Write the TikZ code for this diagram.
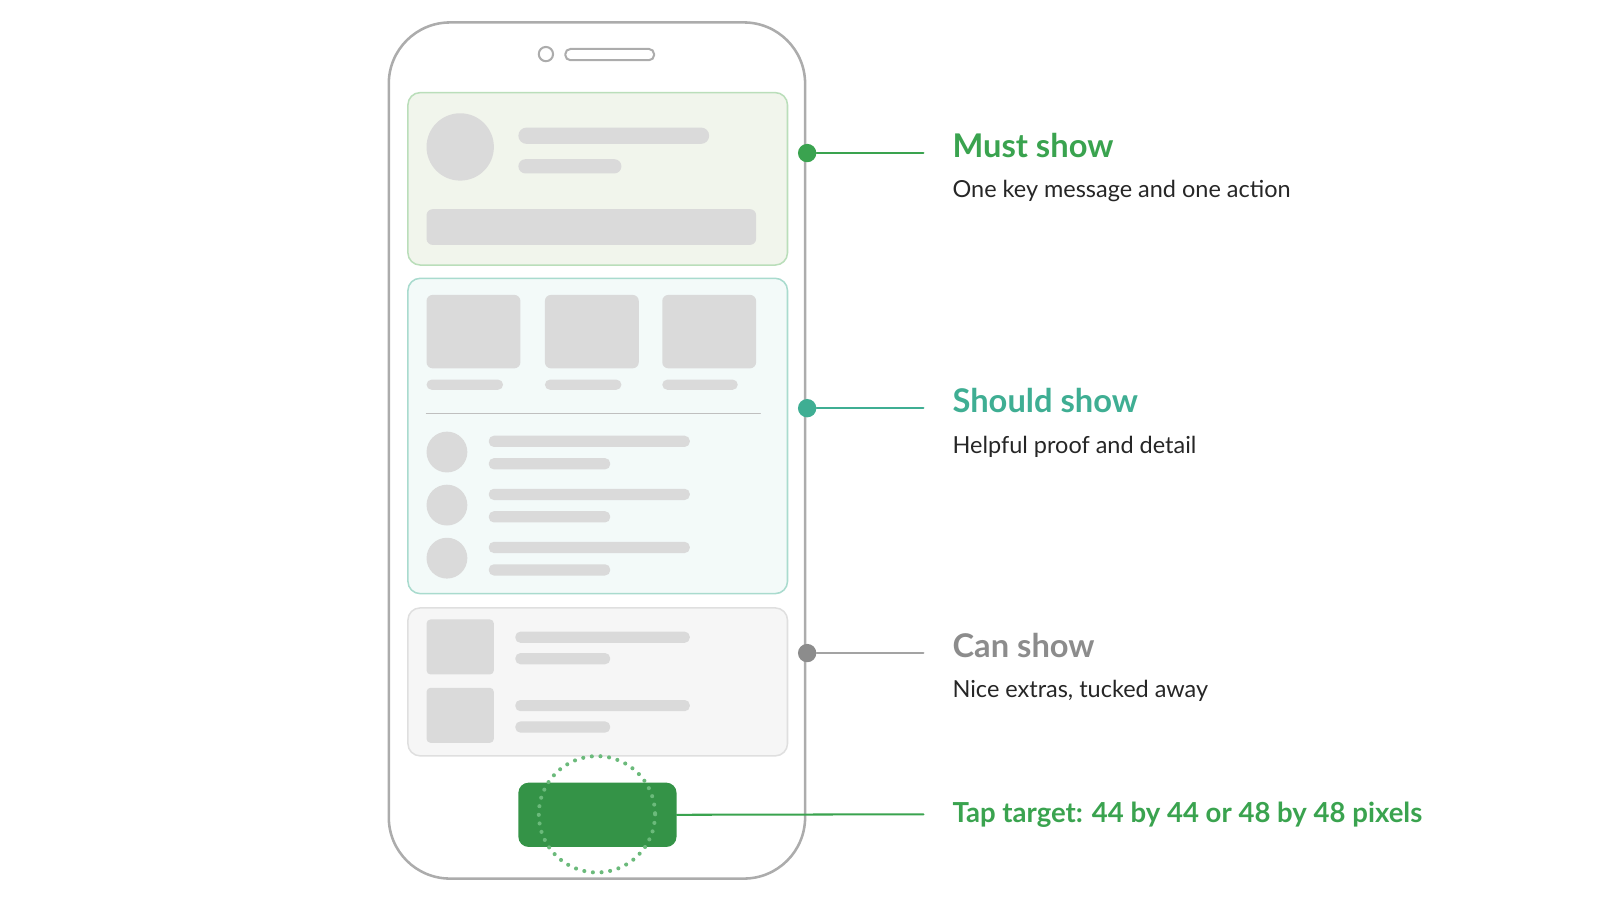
\documentclass[tikz,border=0pt]{standalone}
\usepackage{fontspec}
\setmainfont{Lato}
\usetikzlibrary{positioning}

\definecolor{mustgreen}{HTML}{3AA34F}
\definecolor{shouldteal}{HTML}{3FAE93}
\definecolor{cangray}{HTML}{8C8C8C}
\definecolor{skel}{HTML}{DADADA}
\definecolor{mustfill}{HTML}{F1F5EC}

\tikzset{
  card/.style={draw=#1, line width=1.5pt, rounded corners=12pt, anchor=north west,
    minimum width=372pt, inner sep=0pt},
  bar/.style={fill=skel, rounded corners=5pt},
  dot/.style={circle, fill=#1, inner sep=0pt, minimum size=18pt},
  head/.style={anchor=base west, font=\fontsize{32}{32}\selectfont\bfseries, text=#1},
  sub/.style={anchor=base west, font=\fontsize{23}{23}\selectfont, text=black!85},
}

\begin{document}
\begin{tikzpicture}[x=1pt,y=-1pt,line cap=round]
\useasboundingbox (0,0) rectangle (1568,882);

% phone body
\draw[gray!65, line width=2.5pt, rounded corners=60pt] (381,22) rectangle (789,861);
\draw[gray!65, line width=2pt] (535,53) circle (7);
\draw[gray!65, line width=2pt, rounded corners=5pt] (554,48) rectangle (641,59);

% cards
\node[card=green!35!gray!40, fill=mustfill, minimum height=169pt] (must) at (399,90) {};
\node[card=shouldteal!45, fill=shouldteal!6, minimum height=309pt] (should) at (399,272) {};
\node[card=gray!25, fill=gray!7, minimum height=145pt] (can) at (399,595) {};

% must show content
\fill[skel] (451,144) circle (33);
\fill[bar, rounded corners=8pt] (508,125) rectangle (695,141);
\fill[bar, rounded corners=7pt] (508,156) rectangle (609,170);
\fill[bar, rounded corners=6pt] (418,205) rectangle (741,240);

% should show content
\foreach \x/\w in {418/75, 534/75, 649/74} {
  \fill[bar, rounded corners=6pt] (\x,289) rectangle ++(92,72);
  \fill[bar] (\x,372) rectangle ++(\w,10);
}
\draw[gray!50, line width=1.5pt] (418,405) -- (745,405);
\foreach \y in {443,495,547} {
  \fill[skel] (438,\y) circle (20);
  \fill[bar] (479,\y-16) rectangle (676,\y-5);
  \fill[bar] (479,\y+6) rectangle (598,\y+17);
}

% can show content
\foreach \y in {607,674} {
  \fill[bar, rounded corners=4pt] (418,\y) rectangle ++(66,54);
  \fill[bar] (505,\y+12) rectangle (676,\y+23);
  \fill[bar] (505,\y+33) rectangle (598,\y+44);
}

% tap button
\node[fill=mustgreen!90!black, rounded corners=10pt, minimum width=155pt, minimum height=63pt,
  inner sep=0pt] (tap) at (585.5,798.5) {};
\draw[mustgreen!75, line width=4pt, dash pattern=on 0pt off 8.5pt] (585,798) circle (57);

% connectors
\node[dot=mustgreen] (dmust) at (791,150) {};
\node[dot=shouldteal] (dshould) at (791,400) {};
\node[dot=cangray] (dcan) at (791,640) {};
\coordinate (emust) at (905,150);
\coordinate (eshould) at (905,400);
\coordinate (ecan) at (905,640);
\coordinate (etap) at (905,798);
\draw[mustgreen, line width=2pt] (dmust) -- (emust);
\draw[shouldteal, line width=2pt] (dshould) -- (eshould);
\draw[cangray!80, line width=2pt] (dcan) -- (ecan);
\draw[mustgreen, line width=2pt] (tap.east) -- (etap);

% labels
\node[head=mustgreen] (lmust) at (930,154) {Must show};
\node[sub] (smust) at (930,194) {One key message and one action};
\node[head=shouldteal] (lshould) at (930,404) {Should show};
\node[sub] (sshould) at (930,444) {Helpful proof and detail};
\node[head=cangray] (lcan) at (930,644) {Can show};
\node[sub] (scan) at (930,684) {Nice extras, tucked away};
\node[head=mustgreen, font=\fontsize{27}{27}\selectfont\bfseries] (ltap) at (930,806)
  {Tap target: 44 by 44 or 48 by 48 pixels};

\end{tikzpicture}
\end{document}
